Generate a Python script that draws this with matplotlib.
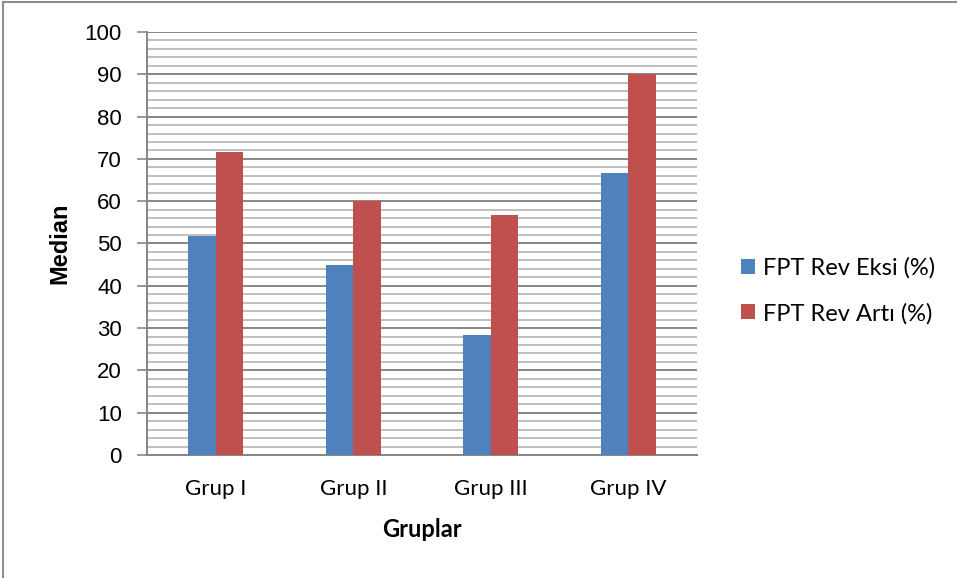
import numpy as np
import matplotlib.pyplot as plt
from matplotlib.patches import Rectangle

plt.rcParams['font.family'] = ['Lato', 'DejaVu Sans']

groups = ['Grup I', 'Grup II', 'Grup III', 'Grup IV']
rev_eksi = [51.7, 45.0, 28.3, 66.7]
rev_arti = [71.6, 60.0, 56.7, 90.0]
series_names = ['FPT Rev Eksi (%)', 'FPT Rev Artı (%)']

fig = plt.figure(figsize=(9.57, 5.78), dpi=100)
ax = fig.add_axes([147/957, 123/578, 550/957, 423/578])

x = np.arange(len(groups))
w = 0.2
ax.bar(x - w/2, rev_eksi, w, color='#4F81BD', label=series_names[0], zorder=3)
ax.bar(x + w/2, rev_arti, w, color='#C0504D', label=series_names[1], zorder=3)

ax.set_xlim(-0.5, len(groups) - 0.5)
ax.set_ylim(0, 100)
ax.set_yticks(np.arange(0, 101, 10))
ax.set_yticks(np.arange(0, 101, 2), minor=True)
ax.set_xticks(x)
ax.set_xticklabels(groups)

ax.grid(axis='y', which='minor', color='#B4B4B4', lw=1.2, zorder=0)
ax.grid(axis='y', which='major', color='#868686', lw=1.4, zorder=1)
ax.tick_params(axis='y', which='major', length=7, color='#868686', width=1.2,
               labelsize=16, pad=11)
ax.tick_params(axis='y', which='minor', length=0)
ax.tick_params(axis='x', length=0, labelsize=16, pad=17)
for lbl in ax.get_yticklabels():
    lbl.set_fontfamily('Liberation Sans')

for side in ['top', 'right']:
    ax.spines[side].set_visible(False)
for side in ['left', 'bottom']:
    ax.spines[side].set_color('#868686')
    ax.spines[side].set_linewidth(1.4)

ax.set_ylabel('Median', fontsize=17, fontweight='bold',
              fontfamily='Liberation Sans', va='center')
ax.yaxis.set_label_coords(-0.158, 0.5)
ax.set_xlabel('Gruplar', fontsize=17, fontweight='bold', va='center')
ax.xaxis.set_label_coords(0.5, -0.177)

ax.legend(loc='center left', bbox_to_anchor=(1.08, 0.388), frameon=False,
          fontsize=17, handlelength=0.6, handleheight=0.6,
          handletextpad=0.35, labelspacing=1.0, borderpad=0, borderaxespad=0)

# chart border
fig.patches.append(Rectangle((3/957, -0.1), 1.2, (578 - 2)/578 + 0.1,
                             transform=fig.transFigure, fill=False,
                             edgecolor='#8C8C8C', lw=1.5))

fig.savefig('out.png', dpi=100)
